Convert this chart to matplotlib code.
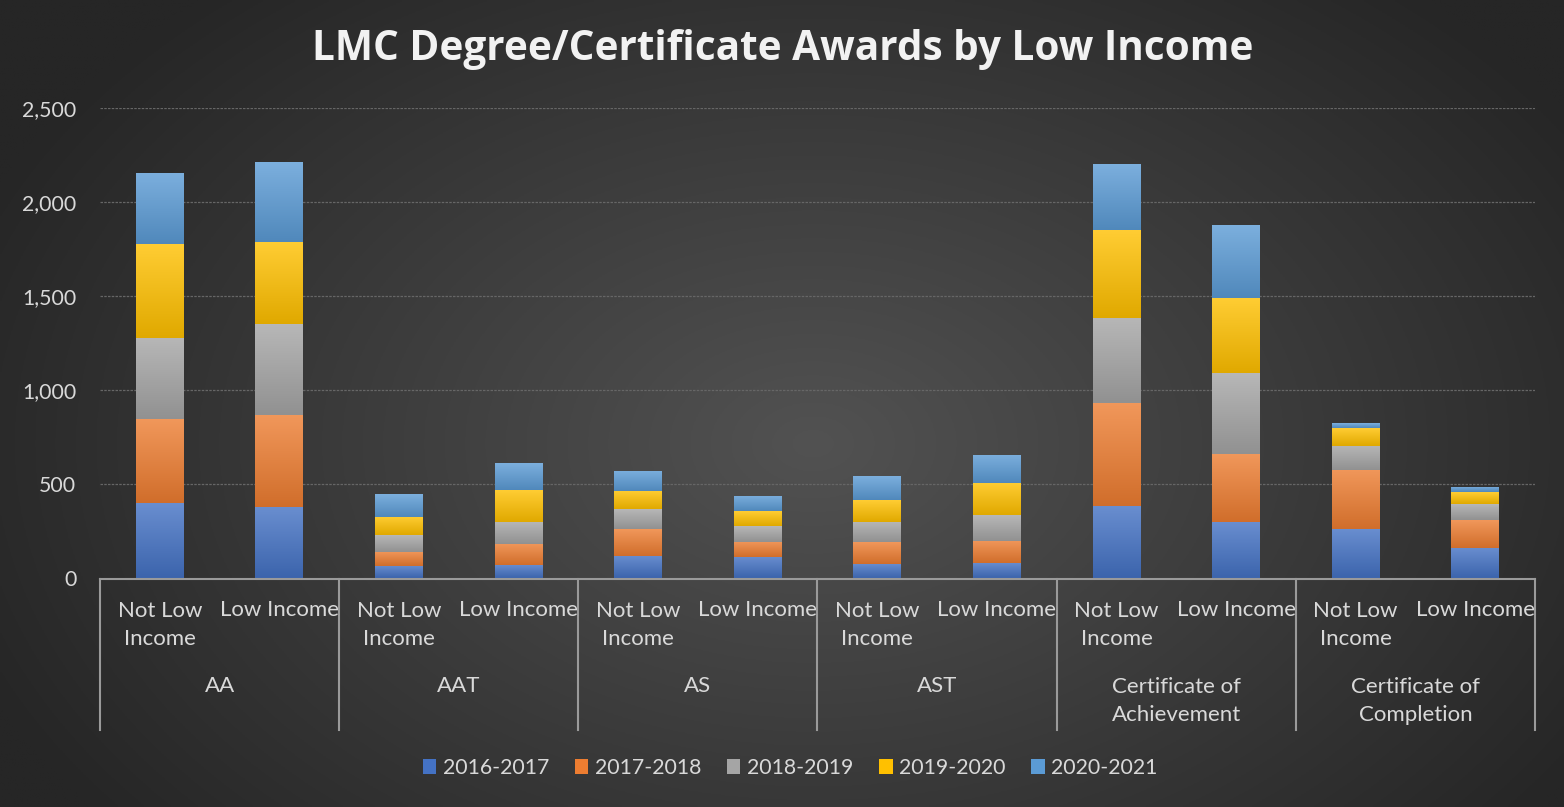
import numpy as np
import matplotlib
matplotlib.use("Agg")
import matplotlib.pyplot as plt
from matplotlib.lines import Line2D

# ---------------- data ----------------
categories = ["AA", "AAT", "AS", "AST", "Certificate of\nAchievement", "Certificate of\nCompletion"]
subgroups = ["Not Low\nIncome", "Low Income"]
series_names = ["2016-2017", "2017-2018", "2018-2019", "2019-2020", "2020-2021"]

# order: for each category -> Not Low Income, Low Income
y2016_2017 = [401, 380, 66, 70, 121, 114, 79, 81, 387, 302, 263, 164]
y2017_2018 = [446, 488, 75, 113, 142, 80, 115, 118, 545, 361, 314, 148]
y2018_2019 = [433, 483, 88, 119, 104, 85, 108, 136, 452, 428, 128, 85]
y2019_2020 = [496, 435, 97, 168, 97, 79, 115, 172, 466, 398, 94, 62]
y2020_2021 = [379, 425, 122, 143, 107, 80, 127, 149, 350, 387, 26, 27]

yticks = [0, 500, 1000, 1500, 2000, 2500]
ytick_labels = ["0", "500", "1,000", "1,500", "2,000", "2,500"]

colors = ["#4472C4", "#ED7D31", "#A5A5A5", "#FFC000", "#5B9BD5"]
series = [y2016_2017, y2017_2018, y2018_2019, y2019_2020, y2020_2021]

plt.rcParams['font.family'] = ['Lato', 'DejaVu Sans']
W, H = 1564, 807
fig = plt.figure(figsize=(W / 100, H / 100), dpi=100)

# background radial gradient
bg = fig.add_axes([0, 0, 1, 1], zorder=-10)
yy, xx = np.mgrid[0:1:300j, 0:1:600j]
r = np.sqrt(((xx - 0.52) * 1.3) ** 2 + ((yy - 0.45) * 1.0) ** 2)
r = np.clip(r / 0.75, 0, 1)
c0 = np.array([0x52, 0x52, 0x52]) / 255
c1 = np.array([0x26, 0x26, 0x26]) / 255
img = c0[None, None, :] * (1 - r[..., None]) + c1[None, None, :] * r[..., None]
bg.imshow(img, aspect='auto', extent=[0, 1, 0, 1], origin='lower')
bg.axis('off')

left, right = 100 / W, 1535 / W
bottom, top = (H - 578.5) / H, (H - 108) / H
ax = fig.add_axes([left, bottom, right - left, top - bottom])
ax.set_facecolor('none')

n = len(y2016_2017)
x = np.arange(n)
base = np.zeros(n)
for vals, col, name in zip(series, colors, series_names):
    vals = np.array(vals, dtype=float)
    bars = ax.bar(x, vals, width=0.4, bottom=base, color=col, label=name, zorder=3, linewidth=0)
    grad = np.linspace(0, 1, 64)[:, None]
    cbase = np.array(matplotlib.colors.to_rgb(col))
    lighter = cbase + (1 - cbase) * 0.2
    darker = cbase * 0.88
    g = darker[None, None, :] * (1 - grad[..., None]) + lighter[None, None, :] * grad[..., None]
    for b in bars:
        x0, y0 = b.get_x(), b.get_y()
        w, h = b.get_width(), b.get_height()
        im = ax.imshow(g, extent=[x0, x0 + w, y0, y0 + h], origin='lower', aspect='auto', zorder=4)
        im.set_clip_path(b)
    base += vals

ax.set_xlim(-0.5, n - 0.5)
ax.set_ylim(0, 2500)
ax.set_yticks(yticks)
ax.set_yticklabels(ytick_labels)
ax.tick_params(axis='y', length=0, pad=17, labelsize=15.3, labelcolor='#d9d9d9')
ax.set_xticks([])
for s in ax.spines.values():
    s.set_visible(False)
ax.grid(axis='y', color='#666666', linestyle=(0, (2, 1)), linewidth=0.9, zorder=0)
ax.set_axisbelow(True)

ax.axhline(0, color='#9a9a9a', linewidth=1.5, zorder=5, clip_on=False)

trans = ax.get_xaxis_transform()
plot_h = 578.5 - 108
def fy(px):
    return -(px - 578.5) / plot_h

txtc = '#d9d9d9'
fs = 16
for i in range(n):
    lab = subgroups[i % 2]
    if "\n" in lab:
        ax.text(i, fy(625), lab, transform=trans, ha='center', va='center', color=txtc,
                fontsize=fs, linespacing=1.5, clip_on=False)
    else:
        ax.text(i, fy(610), lab, transform=trans, ha='center', va='center', color=txtc,
                fontsize=fs, clip_on=False)
for k, cat in enumerate(categories):
    cx = 2 * k + 0.5
    if "\n" in cat:
        ax.text(cx, fy(701), cat, transform=trans, ha='center', va='center', color=txtc,
                fontsize=fs, linespacing=1.5, clip_on=False)
    else:
        ax.text(cx, fy(686), cat, transform=trans, ha='center', va='center', color=txtc,
                fontsize=fs, clip_on=False)
for k in range(len(categories) + 1):
    xd = 2 * k - 0.5
    ax.add_line(Line2D([xd, xd], [0, fy(730)], transform=trans, color='#9a9a9a',
                       linewidth=1.5, clip_on=False, zorder=5))

fig.text(783 / W, 1 - 50 / H, "LMC Degree/Certificate Awards by Low Income", ha='center', va='center',
         color='#f2f2f2', fontsize=29.2, fontweight='bold', family=['Open Sans', 'DejaVu Sans'])

leg = fig.legend(loc='center', bbox_to_anchor=(790 / W, 1 - 768 / H), ncol=5, frameon=False,
                 fontsize=15.3, labelcolor=txtc, handlelength=0.65, handleheight=0.65,
                 handletextpad=0.3, columnspacing=1.2)

fig.savefig("out.png", dpi=100)
